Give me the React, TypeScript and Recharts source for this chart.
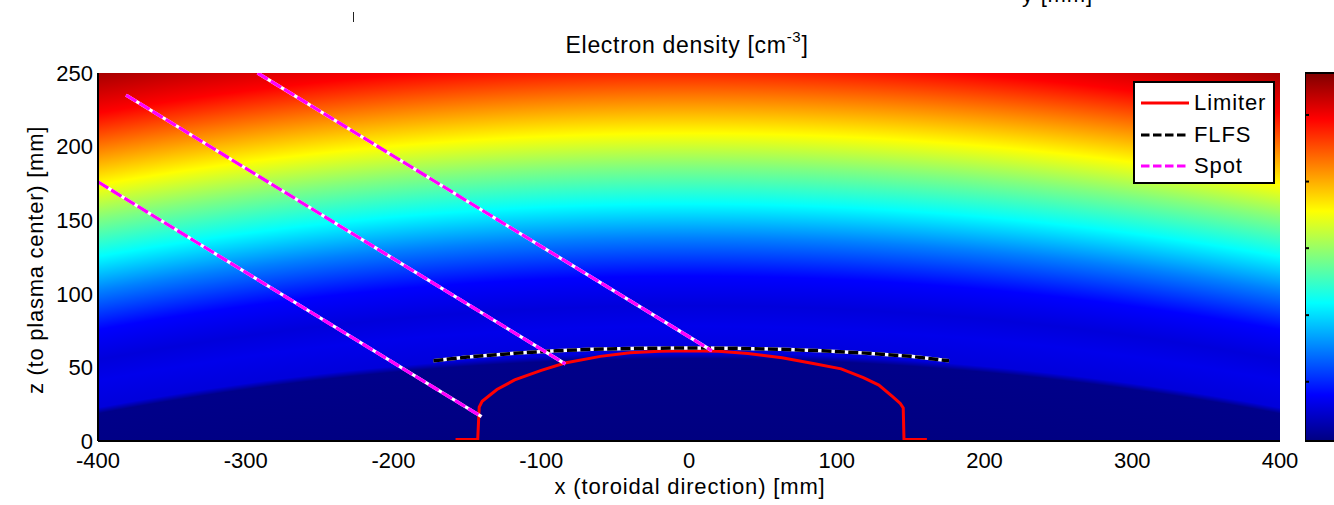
import { LineChart, Line, XAxis, YAxis, ReferenceArea, BarChart, Bar } from "recharts";

const FONT = '"Liberation Sans", Arial, Helvetica, sans-serif';

const xTicks = [-400, -300, -200, -100, 0, 100, 200, 300, 400];
const zTicks = [0, 50, 100, 150, 200, 250];

// limiter contour [mm]
const limiter = [
  { x: -158, z: 1 }, { x: -143, z: 1 }, { x: -142, z: 23 }, { x: -140, z: 27 },
  { x: -130, z: 35 }, { x: -118, z: 41.5 }, { x: -100, z: 48 }, { x: -84, z: 53 },
  { x: -60, z: 57.5 }, { x: -40, z: 60 }, { x: -20, z: 61 }, { x: 0, z: 61.3 },
  { x: 20, z: 61 }, { x: 40, z: 59.5 }, { x: 63, z: 56.5 }, { x: 85, z: 52.5 },
  { x: 103, z: 49 }, { x: 118, z: 43 }, { x: 128.5, z: 38 }, { x: 138, z: 30 },
  { x: 143, z: 25.5 }, { x: 145, z: 22.4 }, { x: 145.5, z: 1 }, { x: 161, z: 1 },
];

// first limiting flux surface
const flfs = [
  { x: -173, z: 54.5 }, { x: -150, z: 57 }, { x: -118, z: 59.6 }, { x: -90, z: 61.3 },
  { x: -66, z: 62.3 }, { x: -30, z: 63 }, { x: 0, z: 63.2 }, { x: 30, z: 63 },
  { x: 63, z: 62.3 }, { x: 90, z: 61.3 }, { x: 115, z: 60 }, { x: 150, z: 57.5 },
  { x: 176, z: 54.5 },
];

// viewing spots
const spot1 = [{ x: -400, z: 176 }, { x: -140.4, z: 16.5 }];
const spot2 = [{ x: -381, z: 235 }, { x: -83.7, z: 52.3 }];
const spot3 = [{ x: -292, z: 250 }, { x: 15.5, z: 61.3 }];

// density profile: height of each iso-density surface at x = 0, and normalised density there
const profileHeight = [0, 56, 60, 78, 92, 112, 138, 161, 186, 209, 233, 257, 295];
const profileLevel = [0, 0.01, 0.09, 0.105, 0.09, 0.125, 0.25, 0.375, 0.5, 0.625, 0.75, 0.875, 1.0];
const surfaceRadius = 2100; // curvature radius of the surfaces [mm]

// colorbar
const cbarTicks = [0.161, 0.342, 0.524, 0.705, 0.886];
const cbarData = [{ name: "ne", v: 1 }];
const jetStops = [0, 0.125, 0.375, 0.625, 0.875, 1];

const clamp = (v: number) => Math.max(0, Math.min(1, v));
const jet = (f: number) => {
  const r = clamp(Math.min(4 * f - 1.5, -4 * f + 4.5));
  const g = clamp(Math.min(4 * f - 0.5, -4 * f + 3.5));
  const b = clamp(Math.min(4 * f + 0.5, -4 * f + 2.5));
  return `rgb(${Math.round(r * 255)},${Math.round(g * 255)},${Math.round(b * 255)})`;
};

const xSpan = 800;
const zSpan = 250;
const hMax = profileHeight[profileHeight.length - 1];
const gCy = 1 + surfaceRadius / zSpan;
const gR = (surfaceRadius + hMax) / xSpan;

const tickStyle = { fontSize: 22, fill: "#000", fontFamily: FONT };
const axisLine = { stroke: "#000", strokeWidth: 2 };
const cbarTickLine = { stroke: "#000", strokeWidth: 2 };
const noLabel = () => <g />;

const legendItems = [
  { name: "Limiter", color: "#ff0000", dash: "" },
  { name: "FLFS", color: "#000000", dash: "8.5 3.5" },
  { name: "Spot", color: "#ff00ff", dash: "8.5 3.5" },
];

const label = (x: number, y: number, extra: any = {}) => ({
  position: "absolute" as const,
  left: x,
  top: y,
  transform: "translate(-50%, -50%)",
  fontSize: 22,
  lineHeight: 1,
  whiteSpace: "nowrap" as const,
  color: "#000",
  ...extra,
});

export default function App() {
  return (
    <div style={{ position: "fixed", left: 0, top: 0, width: 1334, height: 505, overflow: "hidden", background: "#fff", fontFamily: FONT }}>
      <div style={{ position: "absolute", left: 0, top: 0 }}>
        <LineChart width={1334} height={505} margin={{ top: 73, right: 54, bottom: 34, left: 38 }}>
          <defs>
            <radialGradient
              id="density"
              gradientUnits="objectBoundingBox"
              cx={0.5}
              cy={gCy}
              r={gR}
              gradientTransform={`translate(0.5 ${gCy}) scale(1 ${xSpan / zSpan}) translate(-0.5 ${-gCy})`}
            >
              {profileHeight.map((h, i) => (
                <stop key={i} offset={(surfaceRadius + h) / (surfaceRadius + hMax)} stopColor={jet(profileLevel[i])} />
              ))}
            </radialGradient>
          </defs>
          <XAxis
            type="number"
            dataKey="x"
            domain={[-400, 400]}
            ticks={xTicks}
            interval={0}
            allowDataOverflow
            tickLine={false}
            tickSize={0}
            tickMargin={11}
            axisLine={axisLine}
            tick={tickStyle}
            height={30}
          />
          <YAxis
            type="number"
            domain={[0, 250]}
            ticks={zTicks}
            interval={0}
            allowDataOverflow
            tickLine={false}
            tickSize={0}
            tickMargin={5}
            axisLine={axisLine}
            tick={tickStyle}
            width={60}
          />
          <ReferenceArea x1={-400} x2={400} y1={0} y2={250} fill="url(#density)" fillOpacity={1} stroke="none" />
          <Line data={limiter} dataKey="z" stroke="#ff0000" strokeWidth={3} dot={false} isAnimationActive={false} />
          <Line data={flfs} dataKey="z" stroke="#ffffff" strokeWidth={3.5} dot={false} isAnimationActive={false} legendType="none" />
          <Line data={flfs} dataKey="z" stroke="#000000" strokeWidth={3.5} strokeDasharray="10 3.4" dot={false} isAnimationActive={false} />
          {[spot1, spot2, spot3].map((s, i) => (
            <Line key={"w" + i} data={s} dataKey="z" stroke="#ffffff" strokeWidth={3.3} dot={false} isAnimationActive={false} legendType="none" />
          ))}
          {[spot1, spot2, spot3].map((s, i) => (
            <Line key={"m" + i} data={s} dataKey="z" stroke="#ff00ff" strokeWidth={3.3} strokeDasharray="12 3.5" dot={false} isAnimationActive={false} />
          ))}
        </LineChart>
      </div>

      {/* colorbar */}
      <div style={{ position: "absolute", left: 1305, top: 0, width: 32, height: 505 }}>
        <BarChart width={32} height={505} data={cbarData} margin={{ top: 73, right: 0, bottom: 64, left: 0 }} barCategoryGap={0}>
          <defs>
            <linearGradient id="jetbar" x1="0" y1="1" x2="0" y2="0">
              {jetStops.map((f) => (
                <stop key={f} offset={f} stopColor={jet(f)} />
              ))}
            </linearGradient>
          </defs>
          <XAxis dataKey="name" hide />
          <Bar yAxisId="l" dataKey="v" fill="url(#jetbar)" stroke="#000" strokeWidth={2} isAnimationActive={false} />
          <YAxis
            yAxisId="l"
            type="number"
            domain={[0, 1]}
            ticks={cbarTicks}
            interval={0}
            mirror
            width={4}
            tick={noLabel}
            tickSize={4}
            tickLine={cbarTickLine}
            axisLine={false}
          />
          <YAxis
            yAxisId="r"
            orientation="right"
            type="number"
            domain={[0, 1]}
            ticks={cbarTicks}
            interval={0}
            mirror
            width={4}
            tick={noLabel}
            tickSize={4}
            tickLine={cbarTickLine}
            axisLine={false}
          />
        </BarChart>
      </div>

      {/* legend */}
      <div
        style={{
          position: "absolute",
          left: 1133,
          top: 81,
          width: 142,
          height: 103,
          boxSizing: "border-box",
          border: "2px solid #000",
          background: "#fff",
        }}
      >
        {legendItems.map((it, i) => (
          <div key={it.name} style={{ position: "absolute", left: 6, top: 8 + i * 31.6, height: 24, display: "flex", alignItems: "center" }}>
            <svg width={48} height={6} style={{ display: "block" }}>
              <line x1={0} y1={3} x2={48} y2={3} stroke={it.color} strokeWidth={3} strokeDasharray={it.dash || undefined} />
            </svg>
            <span style={{ marginLeft: 5, fontSize: 22, lineHeight: 1, letterSpacing: 0.9 }}>{it.name}</span>
          </div>
        ))}
      </div>

      <div style={label(687, 45, { fontSize: 23, letterSpacing: 0.7 })}>
        Electron density [cm<sup style={{ fontSize: 15, verticalAlign: "top", position: "relative", top: -5 }}>-3</sup>]
      </div>
      <div style={label(690, 487, { letterSpacing: 0.85 })}>x (toroidal direction) [mm]</div>
      <div style={label(36, 260, { transform: "translate(-50%, -50%) rotate(-90deg)", letterSpacing: 0.75 })}>
        z (to plasma center) [mm]
      </div>
      <div style={{ position: "absolute", left: 1022, top: -16, fontSize: 22, lineHeight: 1, letterSpacing: 0.8 }}>y [mm]</div>
      <div style={{ position: "absolute", left: 353, top: 12, width: 1, height: 10, background: "#222" }} />
    </div>
  );
}
